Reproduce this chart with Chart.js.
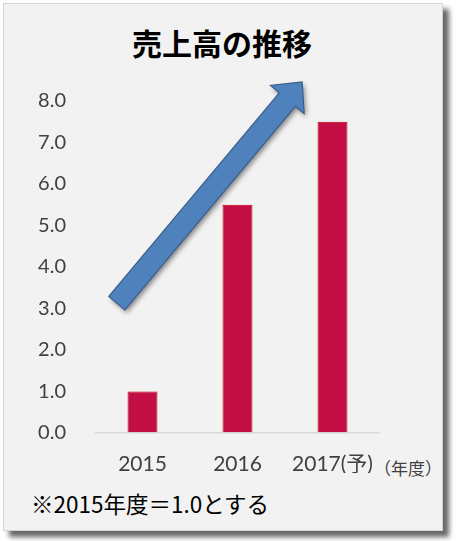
<!DOCTYPE html>
<html>
<head>
<meta charset="utf-8">
<script src="https://cdn.jsdelivr.net/npm/chart.js@4"></script>
<style>
    body { margin: 0; background: #ffffff; }
    #wrap { position: relative; width: 458px; height: 541px; }
    #panel {
        position: absolute; left: 3px; top: 3px; width: 438px; height: 526px;
        background: #f2f2f2; border: 1px solid #d4d4d4;
        box-shadow: 6px 6px 5px rgba(0, 0, 0, 0.6);
    }
    #title {
        position: absolute; left: 0; width: 444px; top: 20px; text-align: center;
        font-family: "Noto Sans CJK JP", sans-serif; font-weight: bold; font-size: 30px; color: #000;
    }
    #unit {
        position: absolute; left: 374px; top: 455px;
        font-family: "Noto Sans CJK JP", sans-serif; font-size: 17px; color: #404040;
    }
    #note {
        position: absolute; left: 31px; top: 487px;
        font-family: "Noto Sans CJK JP", sans-serif; font-size: 22.5px; color: #000;
    }
    canvas { position: absolute; left: 0; top: 0; }
</style>
</head>
<body>
<div id="wrap">
    <div id="panel"></div>
    <div id="title">売上高の推移</div>
    <div id="unit">（年度）</div>
    <div id="note">※2015年度＝1.0とする</div>
    <canvas id="salesChart" width="458" height="541"></canvas>
</div>
<script>
const years = ["2015", "2016", "2017(予)"];
const sales = [1.0, 5.5, 7.5];
const yTicks = [0, 1, 2, 3, 4, 5, 6, 7, 8];

// arrow drawn on top of the bars, given in category index / value units
const arrowFrom = { x: -0.27, y: 3.13 };
const arrowTo = { x: 1.68, y: 8.46 };

const arrowPlugin = {
    id: "trendArrow",
    afterDatasetsDraw(chart) {
        const ctx = chart.ctx;
        const xs = chart.scales.x;
        const ys = chart.scales.y;
        const x1 = xs.getPixelForValue(arrowFrom.x), y1 = ys.getPixelForValue(arrowFrom.y);
        const x2 = xs.getPixelForValue(arrowTo.x), y2 = ys.getPixelForValue(arrowTo.y);
        const len = Math.hypot(x2 - x1, y2 - y1);
        const shaft = 10.5, head = 22, headLen = 23;

        ctx.save();
        ctx.translate(x1, y1);
        ctx.rotate(Math.atan2(y2 - y1, x2 - x1));
        ctx.beginPath();
        ctx.moveTo(0, -shaft);
        ctx.lineTo(len - headLen, -shaft);
        ctx.lineTo(len - headLen, -head);
        ctx.lineTo(len, 0);
        ctx.lineTo(len - headLen, head);
        ctx.lineTo(len - headLen, shaft);
        ctx.lineTo(0, shaft);
        ctx.closePath();
        ctx.shadowColor = "rgba(0, 0, 0, 0.45)";
        ctx.shadowBlur = 5;
        ctx.shadowOffsetX = 2;
        ctx.shadowOffsetY = 3;
        ctx.fillStyle = "#4f81bd";
        ctx.fill();
        ctx.shadowColor = "transparent";
        ctx.strokeStyle = "#385d8a";
        ctx.lineWidth = 1.2;
        ctx.stroke();
        ctx.restore();
    }
};

Chart.defaults.font.family = "Lato, 'Noto Sans CJK JP', sans-serif";
Chart.defaults.color = "#404040";

const ctx = document.getElementById("salesChart").getContext("2d");
new Chart(ctx, {
    type: "bar",
    data: {
        labels: years,
        datasets: [{
            data: sales,
            backgroundColor: "#c30e45",
            borderColor: "#c00000",
            borderWidth: 1,
            barPercentage: 0.63,
            categoryPercentage: 0.5
        }]
    },
    options: {
        responsive: false,
        animation: false,
        layout: { padding: { left: 0, right: 78, top: 101, bottom: 68 } },
        plugins: {
            legend: { display: false },
            tooltip: { enabled: false }
        },
        scales: {
            x: {
                grid: { display: false, drawTicks: false },
                border: { display: false },
                ticks: { font: { size: 21 }, padding: 19, color: "#404040" },
                afterFit(scale) { scale.height = 40; }
            },
            y: {
                min: 0,
                max: 8,
                afterBuildTicks(scale) { scale.ticks = yTicks.map(v => ({ value: v })); },
                grid: {
                    drawTicks: false,
                    color: c => (c.tick && c.tick.value === 0 ? "#d9d9d9" : "rgba(0,0,0,0)"),
                    lineWidth: 1.5
                },
                border: { display: false },
                ticks: {
                    font: { size: 20 },
                    padding: 29,
                    color: "#404040",
                    callback: v => Number(v).toFixed(1)
                },
                afterFit(scale) { scale.width = 95; }
            }
        }
    },
    plugins: [arrowPlugin]
});
</script>
</body>
</html>
